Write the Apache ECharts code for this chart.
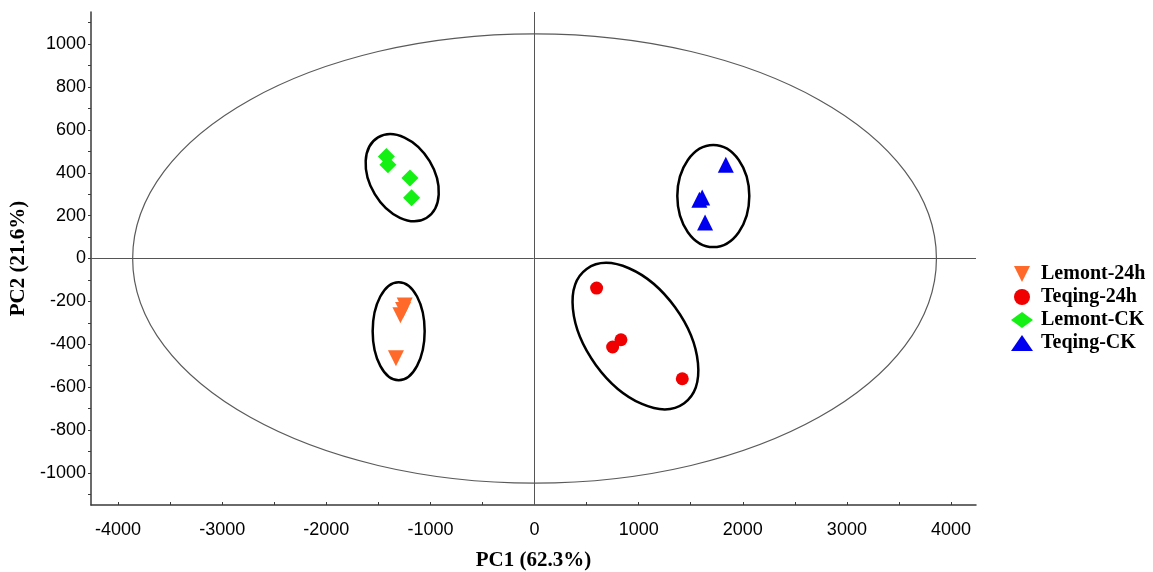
<!DOCTYPE html>
<html>
<head>
<meta charset="utf-8">
<script src="https://cdn.jsdelivr.net/npm/echarts@6/dist/echarts.min.js"></script>
<style>
  html, body { margin: 0; padding: 0; background: #fff; }
  #chart-container { width: 1153px; height: 572px; }
</style>
</head>
<body>
<div id="chart-container"></div>
<script>
// scores
const groupNames = ['Lemont-24h', 'Teqing-24h', 'Lemont-CK', 'Teqing-CK'];
const lemont24h = [[-1247, -219], [-1263, -240], [-1288, -265], [-1331, -465]];
const teqing24h = [[596, -138], [830, -379], [750, -413], [1419, -561]];
const lemontCK = [[-1423, 476], [-1408, 437], [-1197, 376], [-1181, 283]];
const teqingCK = [[1837, 437], [1583, 274], [1610, 285], [1638, 168]];

// tick labels and minor ticks
const pc1Labels = [-4000, -3000, -2000, -1000, 0, 1000, 2000, 3000, 4000];
const pc1Ticks = [-4000, -3500, -3000, -2500, -2000, -1500, -1000, -500, 0, 500, 1000, 1500, 2000, 2500, 3000, 3500, 4000];
const pc2Labels = [-1000, -800, -600, -400, -200, 0, 200, 400, 600, 800, 1000];
const pc2Ticks = [-1100, -1000, -900, -800, -700, -600, -500, -400, -300, -200, -100, 0,
  100, 200, 300, 400, 500, 600, 700, 800, 900, 1000, 1100];

// Hotelling ellipse (semi axes in data units)
const hotelling = [[0, 0, 3860, 1048]];
// group rings: centre (data), semi axes (px), tilt (deg)
const groupRings = [
  [-1271, 377, 32, 47, 31],
  [-1305, -339, 26, 49, 0],
  [969, -362, 49, 83, 36],
  [1717, 291, 36, 51, 0]
];

const chartContainer = document.getElementById('chart-container');
const chart = echarts.init(chartContainer);

const serif = 'Liberation Serif';
const sans = 'Liberation Sans';
const downTriangle = 'path://M0,0 L10,0 L5,10 Z';

function renderHotelling(params, api) {
  const c = api.coord([api.value(0), api.value(1)]);
  const s = api.size([api.value(2), api.value(3)]);
  return {
    type: 'ellipse',
    shape: { cx: c[0], cy: c[1], rx: s[0], ry: s[1] },
    style: { fill: 'none', stroke: '#5a5a5a', lineWidth: 1.2 }
  };
}

function renderRing(params, api) {
  const c = api.coord([api.value(0), api.value(1)]);
  return {
    type: 'ellipse',
    x: c[0],
    y: c[1],
    rotation: api.value(4) * Math.PI / 180,
    shape: { cx: 0, cy: 0, rx: api.value(2), ry: api.value(3) },
    style: { fill: 'none', stroke: '#000', lineWidth: 2.5 }
  };
}

const axisLine = { show: true, onZero: false, lineStyle: { color: '#3a3a3a', width: 1.5 } };
const plain = function (v) { return String(v); };

chart.setOption({
  animation: false,
  backgroundColor: '#fff',
  grid: { left: 91, right: 177, top: 12, bottom: 67, containLabel: false, outerBoundsMode: 'none' },
  legend: {
    orient: 'vertical',
    left: 1006,
    top: 259,
    itemGap: 3,
    itemWidth: 22,
    itemHeight: 16,
    data: groupNames,
    textStyle: { fontFamily: serif, fontWeight: 'bold', fontSize: 20, color: '#000', padding: [0, 0, 0, 3] }
  },
  xAxis: {
    type: 'value',
    min: -4260,
    max: 4240,
    name: 'PC1 (62.3%)',
    nameLocation: 'middle',
    nameGap: 45,
    nameTextStyle: { fontFamily: serif, fontWeight: 'bold', fontSize: 21, color: '#000' },
    axisLine: axisLine,
    axisTick: { show: true, inside: true, length: 3, customValues: pc1Ticks, lineStyle: { color: '#3a3a3a' } },
    axisLabel: { customValues: pc1Labels, formatter: plain, fontFamily: sans, fontSize: 18, color: '#000', margin: 16 },
    splitLine: { show: false }
  },
  yAxis: {
    type: 'value',
    min: -1150,
    max: 1150,
    name: 'PC2 (21.6%)',
    nameLocation: 'middle',
    nameGap: 57,
    nameTextStyle: { fontFamily: serif, fontWeight: 'bold', fontSize: 21, color: '#000' },
    axisLine: axisLine,
    axisTick: { show: true, inside: false, length: 3, customValues: pc2Ticks, lineStyle: { color: '#3a3a3a' } },
    axisLabel: { customValues: pc2Labels, formatter: plain, fontFamily: sans, fontSize: 18, color: '#000', margin: 5 },
    splitLine: { show: false }
  },
  series: [
    {
      type: 'custom',
      silent: true,
      clip: false,
      data: hotelling,
      encode: { x: 0, y: 1 },
      renderItem: renderHotelling,
      z: 1
    },
    {
      type: 'custom',
      silent: true,
      clip: false,
      data: groupRings,
      encode: { x: 0, y: 1 },
      renderItem: renderRing,
      z: 2
    },
    {
      name: groupNames[0],
      type: 'scatter',
      symbol: downTriangle,
      symbolSize: 16,
      itemStyle: { color: '#ff6a2a', opacity: 1 },
      data: lemont24h,
      z: 3,
      markLine: {
        silent: true,
        symbol: 'none',
        label: { show: false },
        lineStyle: { color: '#555', width: 1, type: 'solid' },
        data: [{ xAxis: 0 }, { yAxis: 0 }]
      }
    },
    {
      name: groupNames[1],
      type: 'scatter',
      symbol: 'circle',
      symbolSize: 13,
      itemStyle: { color: '#f00000', opacity: 1 },
      data: teqing24h,
      z: 3
    },
    {
      name: groupNames[2],
      type: 'scatter',
      symbol: 'diamond',
      symbolSize: 17,
      itemStyle: { color: '#14f014', opacity: 1 },
      data: lemontCK,
      z: 3
    },
    {
      name: groupNames[3],
      type: 'scatter',
      symbol: 'triangle',
      symbolSize: 16,
      itemStyle: { color: '#0000f0', opacity: 1 },
      data: teqingCK,
      z: 3
    }
  ]
});
</script>
</body>
</html>
